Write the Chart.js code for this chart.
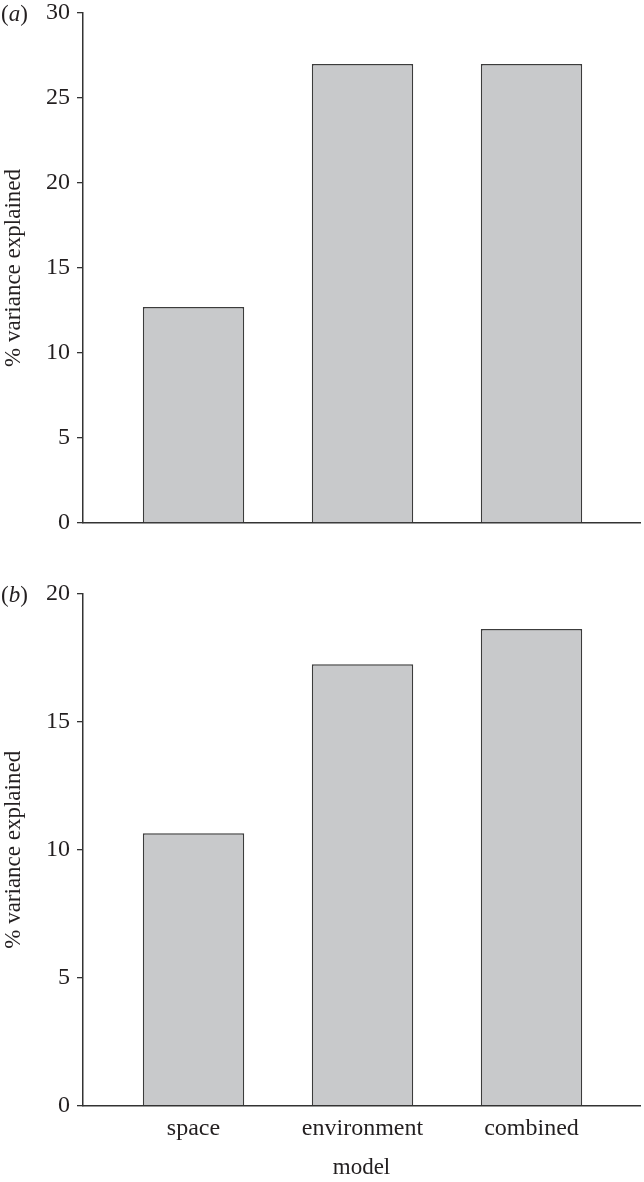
<!DOCTYPE html>
<html>
<head>
<meta charset="utf-8">
<script src="https://cdn.jsdelivr.net/npm/chart.js@4"></script>
<style>
  body { margin: 0; background: #fff; }
  #wrap { position: relative; width: 644px; height: 1182px; }
  .box { position: absolute; left: 0; width: 644px; }
  .tag { position: absolute; left: 1px; font-family: 'Liberation Serif', serif; font-size: 23px; color: #231f20; line-height: 28px; }
</style>
</head>
<body>
<div id="wrap">
  <div class="box" style="top:0; height:545px;"><canvas id="chartA"></canvas></div>
  <div class="box" style="top:575px; height:607px;"><canvas id="chartB"></canvas></div>
  <div class="tag" style="top:0px;">(<i>a</i>)</div>
  <div class="tag" style="top:581px;">(<i>b</i>)</div>
</div>
<script>
// data
var categories = ["space", "environment", "combined"];
var valuesA = [12.7, 27.0, 27.0];
var valuesB = [10.65, 17.25, 18.63];
var ticksA = [0, 30, 5];   // min, max, step
var ticksB = [0, 20, 5];

Chart.defaults.font.family = "'Liberation Serif', serif";
Chart.defaults.font.size = 23;
Chart.defaults.color = "#231f20";

var axisColor = "#333333";

// Start of the shared bar chart builder

function buildPanel(canvasId, values, yTicks, showLabels, pad) {
    return new Chart(document.getElementById(canvasId), {
        type: 'bar',
        data: {
            datasets: [{
                data: values.map(function (v, i) { return { x: i, y: v }; }),
                backgroundColor: "#c8c9cb",
                borderColor: "#3c3c3c",
                borderWidth: 1.5,
                categoryPercentage: 1,
                barPercentage: 0.6
            }]
        },
        options: {
            responsive: true,
            maintainAspectRatio: false,
            animation: false,
            layout: { padding: pad },
            plugins: { legend: { display: false }, tooltip: { enabled: false } },
            scales: {
                x: {
                    type: 'linear',
                    offset: false,
                    min: -0.654,
                    max: 2.642,
                    grid: { display: false, drawTicks: false },
                    border: { display: true, color: axisColor, width: 1.5 },
                    ticks: {
                        display: showLabels,
                        font: { size: 24 },
                        stepSize: 1,
                        includeBounds: false,
                        maxRotation: 0,
                        autoSkip: false,
                        padding: 9,
                        callback: function (v) { return categories[v] !== undefined ? categories[v] : ''; }
                    },
                    title: {
                        display: showLabels,
                        text: 'model',
                        padding: { top: 2, bottom: 0 }
                    }
                },
                y: {
                    min: yTicks[0],
                    max: yTicks[1],
                    afterFit: function (scale) { scale.width = 83; },
                    grid: { display: true, drawOnChartArea: false, drawTicks: true, tickLength: 6, color: axisColor, lineWidth: 1.3 },
                    border: { display: true, color: axisColor, width: 1.5 },
                    ticks: { stepSize: yTicks[2], padding: 7, font: { size: 24, lineHeight: 0.5 } },
                    title: {
                        display: true,
                        text: '% variance explained',
                        padding: { top: 0, bottom: 0 }
                    }
                }
            }
        }
    });
}

// End of the shared bar chart builder

buildPanel('chartA', valuesA, ticksA, false, { top: 13, right: 4, bottom: 22, left: 0 });
buildPanel('chartB', valuesB, ticksB, true, { top: 19, right: 4, bottom: 0, left: 0 });
</script>
</body>
</html>
